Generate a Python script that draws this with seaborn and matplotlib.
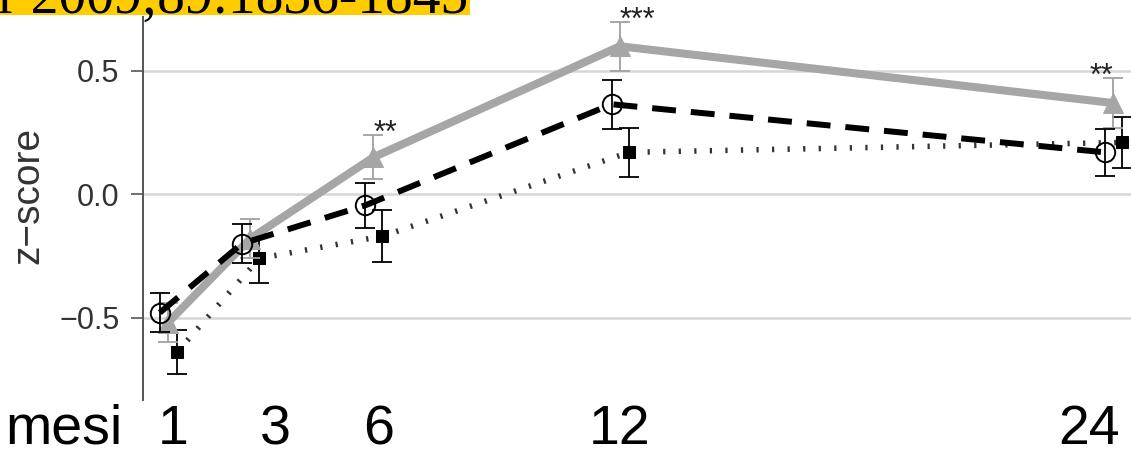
import numpy as np
import pandas as pd
import matplotlib
matplotlib.use('Agg')
import matplotlib.pyplot as plt
import matplotlib.transforms as mtrans
import seaborn as sns

# Data (z-score by month, three groups)
months = [1, 3, 6, 12, 24]
month_labels = ['1', '3', '6', '12', '24']
tri_z = [-0.52, -0.18, 0.15, 0.60, 0.37]
tri_err = [0.08, 0.08, 0.09, 0.10, 0.10]
circ_z = [-0.48, -0.20, -0.045, 0.365, 0.17]
circ_err = [0.08, 0.08, 0.09, 0.10, 0.095]
sq_z = [-0.64, -0.26, -0.17, 0.17, 0.21]
sq_err = [0.09, 0.10, 0.105, 0.10, 0.105]
stars = ['', '', '**', '***', '**']

sns.set_style('white')
plt.rcParams['font.family'] = ['Liberation Sans', 'DejaVu Sans']

fig = plt.figure(figsize=(11.31, 4.62), dpi=100)
ax = fig.add_axes([0.1264, 0.1342, 0.8736, 0.829])

# group styles: (values, errors, dodge, line kwargs, errorbar colour)
series = [
    ('sq', sq_z, sq_err, 0.22,
     dict(color='#333333', lw=4.0, linestyle=(0, (0.4, 2.4)), marker='s', markersize=8.5,
          markerfacecolor='black', markeredgecolor='black', zorder=3), 'black'),
    ('tri', tri_z, tri_err, 0.0,
     dict(color='#a6a6a6', lw=5.8, linestyle='-', marker='^', markersize=14,
          markerfacecolor='#a6a6a6', markeredgecolor='#a6a6a6', zorder=4), '#a0a0a0'),
    ('circ', circ_z, circ_err, -0.2,
     dict(color='black', lw=4.3, linestyle=(0, (4, 2.5)), marker='o', markersize=14,
          markerfacecolor='none', markeredgecolor='black', markeredgewidth=1.4, zorder=5), 'black'),
]

for name, z, err, dodge, kw, ecol in series:
    df = pd.DataFrame({'mese': np.array(months) + dodge, 'z': z, 'err': err})
    ax.errorbar(df['mese'], df['z'], yerr=df['err'], fmt='none', ecolor=ecol,
                elinewidth=1.3, capsize=7, capthick=1.3, zorder=kw['zorder'] - 0.5)
    sns.lineplot(data=df, x='mese', y='z', ax=ax, **kw)

# significance stars above the grey series
for m, z, e, s in zip(months, tri_z, tri_err, stars):
    if s:
        ax.annotate(s, (m, z + e), xytext=(0, -5), textcoords='offset points',
                    ha='right' if m == months[-1] else 'left', va='baseline',
                    fontsize=22, color='#222222', annotation_clip=False)

ax.set_xlim(0.39, 24.44)
ax.set_ylim(-0.834, 0.7186)
ax.set_yticks([-0.5, 0.0, 0.5])
ax.set_yticklabels(['\u22120.5', '0.0', '0.5'])
ax.yaxis.grid(True, color='#d6d6d6', lw=1.8)
ax.xaxis.grid(False)
for side in ['top', 'right', 'bottom']:
    ax.spines[side].set_visible(False)
ax.spines['left'].set_color('#555555')
ax.spines['left'].set_linewidth(1.4)
ax.tick_params(axis='y', length=9, width=1.2, color='#555555', pad=8,
               labelsize=22, labelcolor='#333333', left=True)

ax.set_ylabel('z\u2212score', fontsize=28, color='#333333')
ax.yaxis.set_label_coords(-0.098, 0.533)
ax.set_xlabel('')

ax.set_xticks(months)
ax.set_xticklabels(month_labels)
ax.tick_params(axis='x', length=0, pad=3, labelsize=40, labelcolor='black')
shift_pts = [4, 18, 4, 0, -17]
for lab, dx in zip(ax.get_xticklabels(), shift_pts):
    lab.set_transform(lab.get_transform() + mtrans.ScaledTranslation(dx / 72, 0, fig.dpi_scale_trans))

fig.text(5 / 1131, 1 - 403 / 462, 'mesi', ha='left', va='top', fontsize=40, color='black')

# cut-off citation banner at the top
fig.patches.append(plt.Rectangle((0, 1 - 14.5 / 462), 470 / 1131, 0.05, transform=fig.transFigure,
                                 facecolor='#FFCC00', edgecolor='none', zorder=0))
fig.text(468 / 1131, 1 - 12.5 / 462, 'Am J Clin Nutr 2009;89:1836-1845', ha='right',
         va='baseline', fontsize=40, family=['Liberation Serif', 'DejaVu Serif'], color='black')

fig.savefig('out.png', dpi=100)
